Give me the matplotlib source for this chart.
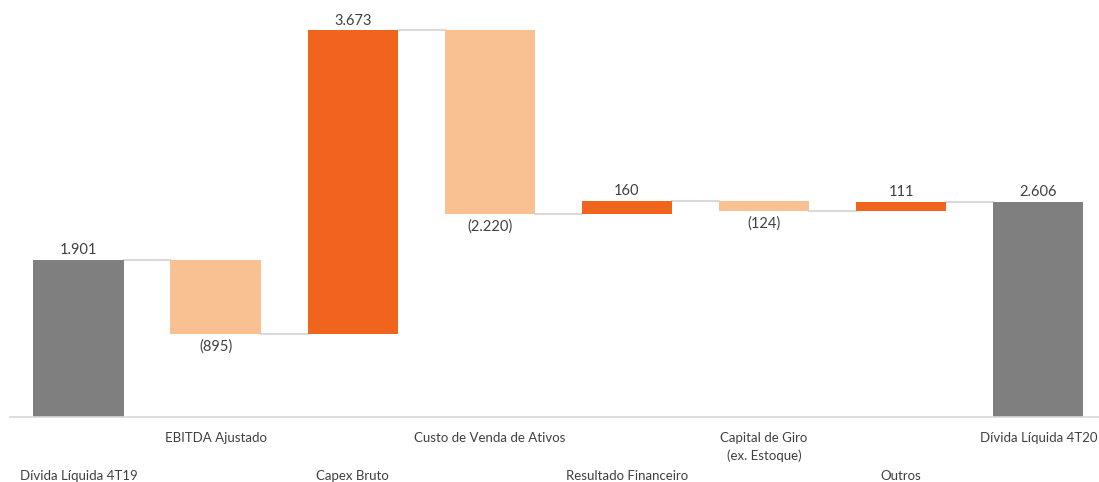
import matplotlib
matplotlib.use('agg')
import matplotlib.pyplot as plt

categories = ["Dívida Líquida 4T19", "EBITDA Ajustado", "Capex Bruto",
              "Custo de Venda de Ativos", "Resultado Financeiro",
              "Capital de Giro\n(ex. Estoque)", "Outros", "Dívida Líquida 4T20"]
values = [1901, -895, 3673, -2220, 160, -124, 111, 2606]
is_total = [True, False, False, False, False, False, False, True]

GRAY = '#7f7f7f'
UP = '#f0641e'
DOWN = '#f9c191'
TEXT = '#404040'

plt.rcParams['font.family'] = ['Lato', 'DejaVu Sans']


def fmt(v):
    s = f"{abs(v):,}".replace(',', '.')
    return f"({s})" if v < 0 else s


fig = plt.figure(figsize=(10.99, 4.82), dpi=100)
ax = fig.add_axes([10 / 1099, 65 / 482, 1089 / 1099, 417 / 482])

# running levels for floating bars
bottoms, tops = [], []
level = 0
for v, tot in zip(values, is_total):
    if tot:
        b, t = 0, v
        level = v
    else:
        b, t = (level, level + v) if v > 0 else (level + v, level)
        level += v
    bottoms.append(b)
    tops.append(t)

colors = [GRAY if tot else (UP if v > 0 else DOWN) for v, tot in zip(values, is_total)]
x = list(range(len(values)))
w = 0.66
ax.bar(x, [t - b for b, t in zip(bottoms, tops)], bottom=bottoms, width=w,
       color=colors, edgecolor='none', zorder=2)

# connectors
run = 0
for i, (v, tot) in enumerate(zip(values, is_total)):
    run = v if tot else run + v
    if i < len(values) - 1:
        ax.plot([i + w / 2, i + 1 - w / 2], [run, run], color='#d9d9d9', lw=1.5, zorder=1)

# value labels
for i, v in enumerate(values):
    if v >= 0:
        ax.annotate(fmt(v), (i, tops[i]), xytext=(0, 2), textcoords='offset points',
                    ha='center', va='bottom', fontsize=10.5, color=TEXT)
    else:
        ax.annotate(fmt(v), (i, bottoms[i]), xytext=(0, -4), textcoords='offset points',
                    ha='center', va='top', fontsize=10.5, color=TEXT)

# category labels, staggered on two rows
for i, c in enumerate(categories):
    off = -15 if i % 2 else -53
    ax.annotate(c, (i, 0), xycoords=('data', 'axes fraction'), xytext=(0, off),
                textcoords='offset pixels', ha='center', va='top', fontsize=9.5,
                color=TEXT, linespacing=1.5, annotation_clip=False)

ax.set_xticks([])
ax.set_yticks([])
ax.set_xlim(-0.5, -0.5 + 1089 / 137.1)
ax.set_ylim(0, 5048)
for s in ['top', 'right', 'left']:
    ax.spines[s].set_visible(False)
ax.spines['bottom'].set_color('#d9d9d9')
ax.spines['bottom'].set_linewidth(1.2)

fig.savefig('out.png', dpi=100)
